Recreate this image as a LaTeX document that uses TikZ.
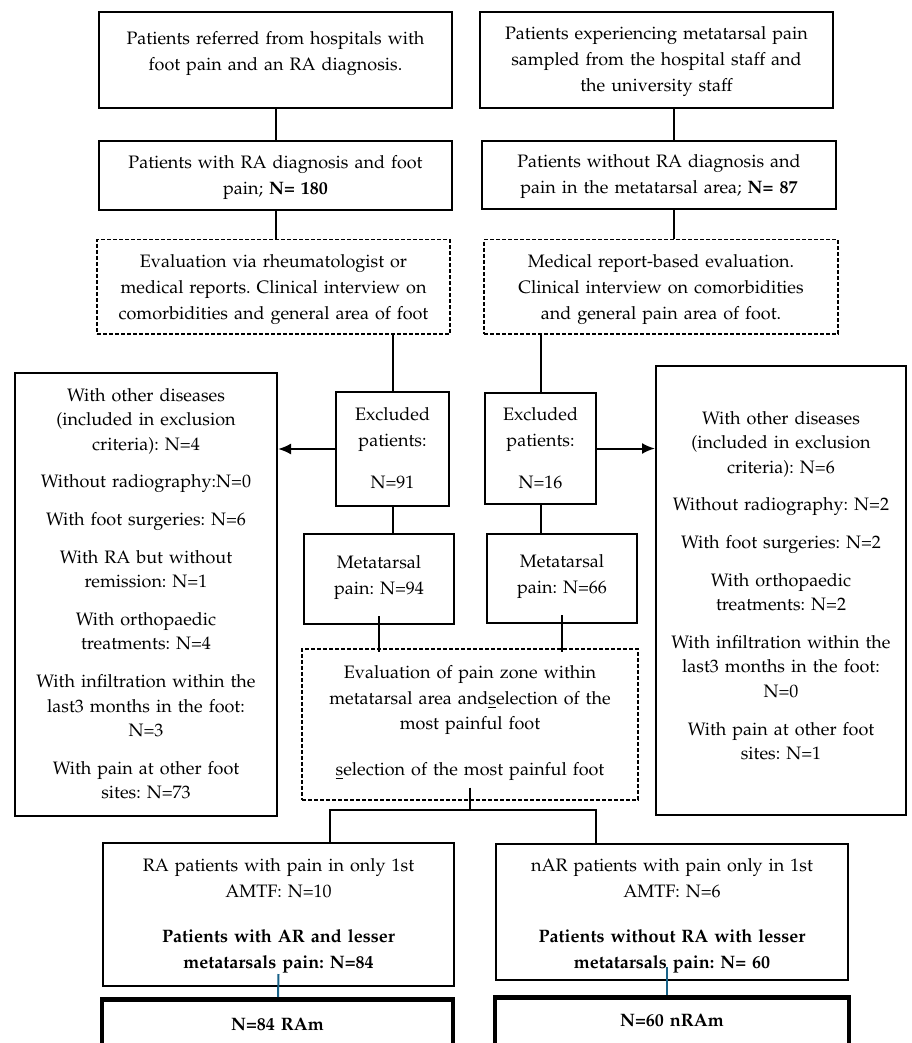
\documentclass[tikz,border=0pt]{standalone}
\usepackage[T1]{fontenc}
\usepackage{mathpazo}
\usetikzlibrary{arrows.meta}
\frenchspacing

\definecolor{linkblue}{RGB}{24,98,136}

\tikzset{
  box/.style={draw, line width=1pt, anchor=north, align=center,
    inner xsep=2pt, inner ysep=0pt, font=\fontsize{9}{13}\selectfont},
  dbox/.style={box, line width=0.75pt, dash pattern=on 2pt off 1pt},
  sidebox/.style={box, font=\fontsize{9}{12.3}\selectfont},
  endbox/.style={box, line width=2.25pt, font=\bfseries\fontsize{9}{13}\selectfont},
  link/.style={line width=1pt},
  bluelink/.style={line width=1pt, draw=linkblue},
}

\begin{document}
\begin{tikzpicture}[x=0.5pt, y=-0.5pt, >={Latex[length=6.5pt,width=5.5pt]}]
  \useasboundingbox[fill=white] (0,0) rectangle (911,1043);

  % left column: RA patients
  \node[box, text width=172.5pt, text height=16.5pt, text depth=31.5pt] (rasrc) at (275.5,11)
    {Patients referred from hospitals with\\foot pain and an RA diagnosis.};
  \node[box, text width=172.5pt, text height=14pt, text depth=20.5pt] (radx) at (275.5,140)
    {Patients with RA diagnosis and foot\\pain; \textbf{N= 180}};
  \node[dbox, text width=172.5pt, text height=14pt, text depth=33pt] (raeval) at (273.5,239)
    {Evaluation via rheumatologist or\\medical reports. Clinical interview on\\comorbidities and general area of foot};

  % right column: patients without RA
  \node[box, text width=172.5pt, text height=14pt, text depth=34pt] (ctlsrc) at (656.5,11)
    {Patients experiencing metatarsal pain\\sampled from the hospital staff and\\the university staff};
  \node[box, text width=173pt, text height=13.5pt, text depth=20.5pt] (ctldx) at (659,140)
    {Patients without RA diagnosis and\\pain in the metatarsal area; \textbf{N= 87}};
  \node[dbox, text width=173pt, text height=14pt, text depth=33pt] (ctleval) at (661,239)
    {Medical report-based evaluation.\\Clinical interview on comorbidities\\and general pain area of foot.};

  % exclusions
  \node[box, text width=52.5pt, text height=14pt, text depth=43pt] (raexcl) at (392.5,391)
    {Excluded\\patients:\\[8pt]N=91};
  \node[box, text width=51.5pt, text height=13.5pt, text depth=42pt] (ctlexcl) at (540.5,392)
    {Excluded\\patients:\\[8pt]N=16};
  \node[sidebox, text width=127pt, text height=14pt, text depth=207.5pt] (rawhy) at (146,372)
    {With other diseases\\(included in exclusion\\criteria): N=4\\[6.5pt]
     Without radiography:N=0\\[6.5pt]
     With foot surgeries: N=6\\[6.5pt]
     With RA but without\\remission: N=1\\[6.5pt]
     With orthopaedic\\treatments: N=4\\[6.5pt]
     With infiltration within the\\last3 months in the foot:\\N=3\\[6.5pt]
     With pain at other foot\\sites: N=73};
  \node[sidebox, text width=121pt, text height=29pt, text depth=195.5pt] (ctlwhy) at (781,365)
    {With other diseases\\(included in exclusion\\criteria): N=6\\[6.5pt]
     Without radiography: N=2\\[6.5pt]
     With foot surgeries: N=2\\[6.5pt]
     With orthopaedic\\treatments: N=2\\[6.5pt]
     With infiltration within the\\last3 months in the foot:\\N=0\\[6.5pt]
     With pain at other foot\\sites: N=1};

  % metatarsal pain
  \node[box, text width=71pt, text height=17pt, text depth=28pt] (rameta) at (379,533)
    {Metatarsal\\pain: N=94};
  \node[box, text width=71pt, text height=16.5pt, text depth=28pt] (ctlmeta) at (562,533)
    {Metatarsal\\pain: N=66};
  \node[dbox, font=\fontsize{9}{12.8}\selectfont, text width=164pt, text height=15pt, text depth=60.5pt] (zone) at (470,648)
    {Evaluation of pain zone within\\metatarsal area and\underline{s}election of the\\most painful foot\\[10pt]
     \underline{s}election of the most painful foot};

  % groups
  \node[box, text width=171.5pt, text height=14pt, text depth=57.5pt] (ragrp) at (278.5,842)
    {RA patients with pain in only 1st\\AMTF: N=10\\[9.5pt]
     \textbf{Patients with AR and lesser}\\\textbf{metatarsals pain: N=84}};
  \node[box, text width=172pt, text height=13.5pt, text depth=54.5pt] (ctlgrp) at (672,843)
    {nAR patients with pain only in 1st\\AMTF: N=6\\[9.5pt]
     \textbf{Patients without RA with lesser}\\\textbf{metatarsals pain: N= 60}};
  \node[endbox, text width=171.5pt, text height=15.5pt, text depth=11pt] (rafin) at (277.5,997) {N=84 RAm};
  \node[endbox, text width=173pt, text height=14.5pt, text depth=13pt] (ctlfin) at (672,995) {N=60 nRAm};

  \coordinate (rc) at (674,0);
  \coordinate (jl) at (330,810);
  \coordinate (jr) at (596,810);

  % connectors
  \draw[link] (rasrc) -- (radx);
  \draw[link] (radx) -- (radx |- raeval.north);
  \draw[link] (ctlsrc.south -| rc) -- (ctldx.north -| rc);
  \draw[link] (ctldx.south -| rc) -- (ctleval.north -| rc);
  \draw[link] (raeval.south -| raexcl) -- (raexcl);
  \draw[link] (ctleval.south -| ctlexcl) -- (ctlexcl);
  \draw[link, ->] (raexcl.west) -- (raexcl.west -| rawhy.east);
  \draw[link, ->] (ctlexcl.east) -- (ctlexcl.east -| ctlwhy.west);
  \draw[link] (raexcl) -- (raexcl |- rameta.north);
  \draw[link] (ctlexcl) -- (ctlexcl |- ctlmeta.north);
  \draw[link] ([yshift=4.5pt]rameta.south) -- ([yshift=-2pt]rameta.south |- zone.north);
  \draw[link] ([yshift=4.5pt]ctlmeta.south) -- ([yshift=-2pt]ctlmeta.south |- zone.north);
  \draw[link] ([yshift=6.5pt]zone.south) -- (zone.south |- jl);
  \draw[link] (ragrp.north -| jl) -- (jl) -- (jr) -- (ctlgrp.north -| jr);
  \draw[bluelink] ([yshift=6.5pt]ragrp.south) -- (rafin);
  \draw[bluelink] ([yshift=7pt,xshift=-2.5pt]ctlgrp.south) -- ([xshift=-2.5pt]ctlfin.north);
\end{tikzpicture}
\end{document}
